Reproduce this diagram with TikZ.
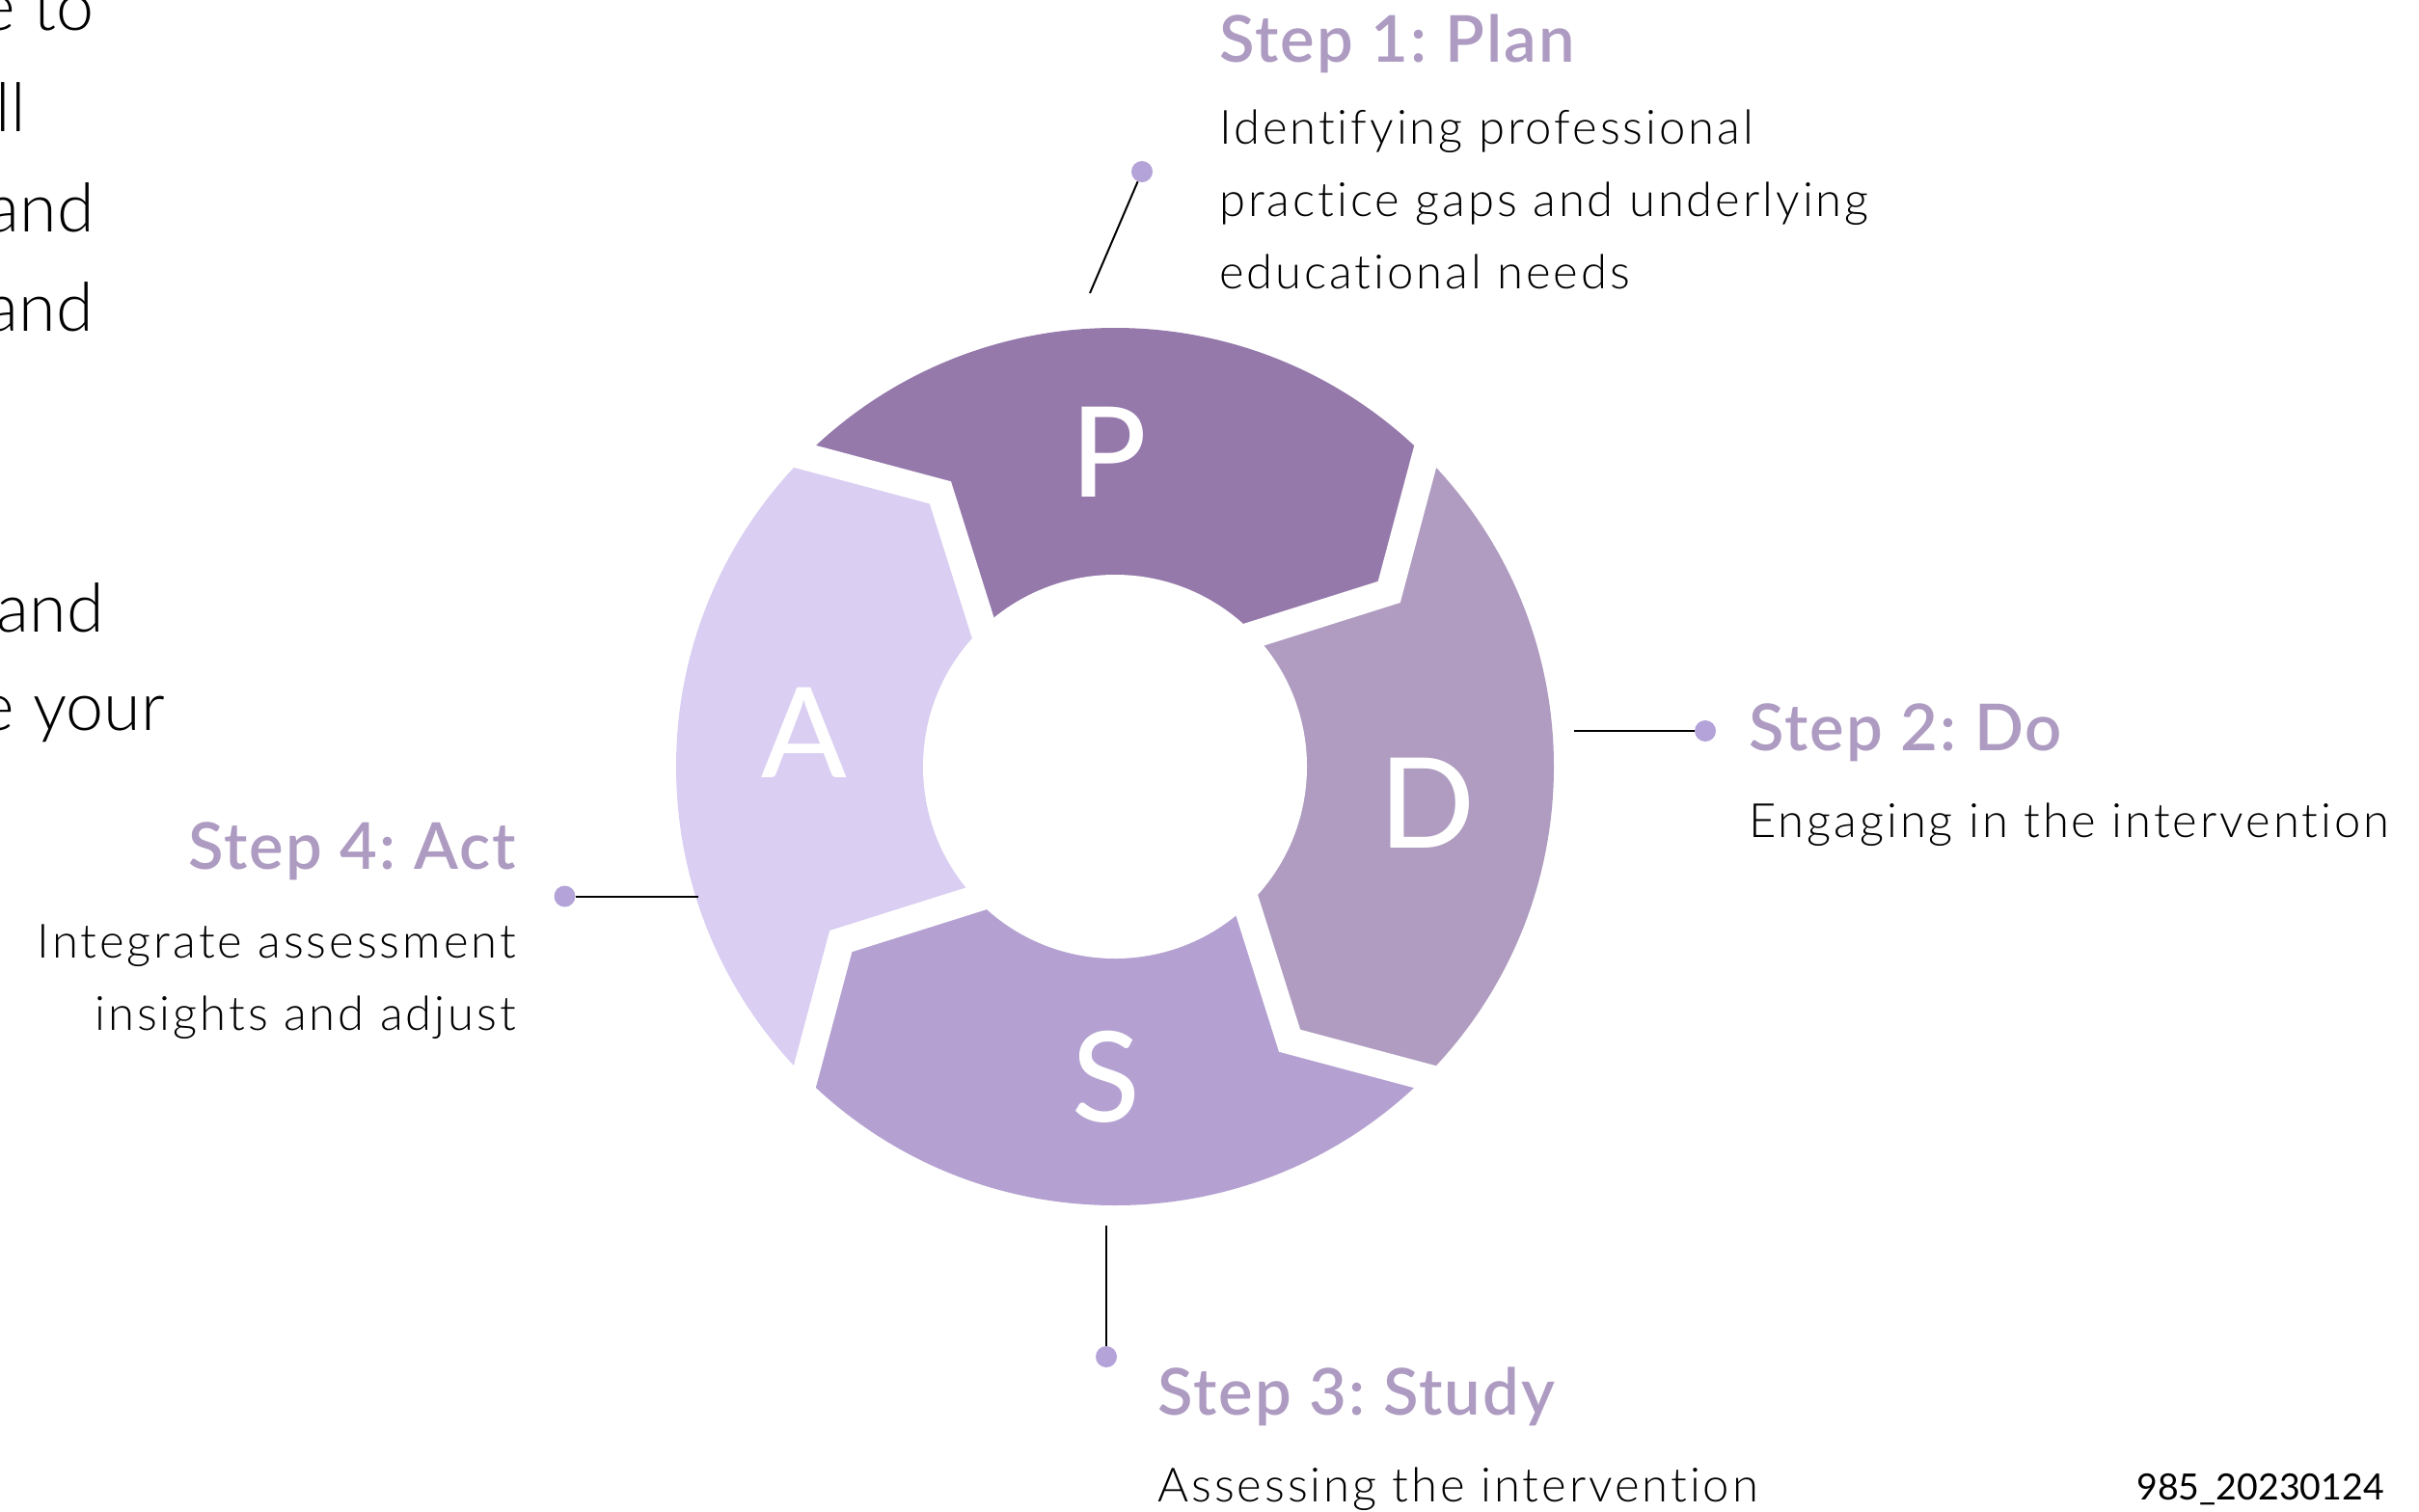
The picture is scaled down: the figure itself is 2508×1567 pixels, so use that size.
\documentclass[tikz,border=0pt]{standalone}
\usepackage{fontspec}
\usetikzlibrary{calc}
\IfFontExistsTF{Lato Light}{\newfontfamily\bodyfont{Lato Light}[LetterSpace=6,Ligatures=NoCommon]}{\newfontfamily\bodyfont{Lato}[LetterSpace=6,Ligatures=NoCommon]}
\IfFontExistsTF{Lato Semibold}{\newfontfamily\headfont{Lato Semibold}[LetterSpace=3]}{\newfontfamily\headfontbase{Lato}[LetterSpace=3]\newcommand\headfont{\headfontbase\bfseries}}
\IfFontExistsTF{Lato Medium}{\newfontfamily\letterfont{Lato Medium}}{\newfontfamily\letterfont{Lato}}
\IfFontExistsTF{Lato Light}{\newfontfamily\fragfont{Lato Light}}{\newfontfamily\fragfont{Lato}}
\newfontfamily\codefont{Lato}
\definecolor{colP}{HTML}{9579AB}
\definecolor{colD}{HTML}{AF9CC0}
\definecolor{colS}{HTML}{B4A1D1}
\definecolor{colA}{HTML}{DACEF2}
\definecolor{headcol}{HTML}{AE9BC2}
\definecolor{dotcol}{HTML}{B4A3D8}
\begin{document}
\frenchspacing
\begin{tikzpicture}[x=1pt,y=-1pt,
  head/.style={font=\headfont\fontsize{67}{80}\selectfont, text=headcol, inner sep=0pt},
  body/.style={font=\bodyfont\fontsize{49}{60}\selectfont, text=black, inner sep=0pt},
  letter/.style={font=\letterfont\fontsize{130}{140}\selectfont, text=white, inner sep=0pt},
  frag/.style={font=\fragfont\fontsize{70}{80}\selectfont, text=black, inner sep=0pt, anchor=base east},
  dot/.style={circle, fill=dotcol, minimum size=22pt, inner sep=0pt},
  conn/.style={draw=black, line width=2pt},
  gap/.style={draw=white, line width=28pt, line join=miter}
]
\fill[white] (0,0) rectangle (2508,1567);
\useasboundingbox (0,0) rectangle (2508,1567);

% cut-off paragraph on the left
\node[frag] (f1) at (98,31.6) {e to};
\node[frag] (f2) at (27,136.7) {ll};
\node[frag] (f3) at (98,240) {and};
\node[frag] (f4) at (97,343) {and};
\node[frag] (f5) at (108,655.6) {and};
\node[frag] (f6) at (171,757.7) {e your};

% ring
\coordinate (C) at (1156,795);
\begin{scope}
\clip (C) circle (455);
\foreach \s/\col in {-135/colP,-45/colD,45/colS,135/colA}{
  \fill[\col] (C) -- ($(C)+({\s+1.5}:199)$) -- ($(C)+({\s+12.5}:337)$) -- ($(C)+(\s:455)$) -- ($(C)+(\s:700)$) -- ($(C)+({\s+45}:700)$) -- ($(C)+({\s+90}:700)$) -- ($(C)+({\s+90}:455)$) -- ($(C)+({\s+102.5}:337)$) -- ($(C)+({\s+91.5}:199)$) -- cycle;
}
\end{scope}
\fill[white] (C) circle (199);
\foreach \s in {-135,-45,45,135}{
  \coordinate (V) at ($(C)+({\s+12.5}:337)$);
  \coordinate (Go) at ($(C)+(\s:455)$);
  \coordinate (Gi) at ($(C)+({\s+1.5}:199)$);
  \draw[gap] ($(V)!1.4!(Go)$) -- (V) -- ($(V)!1.4!(Gi)$);
}

\node[letter] (P) at (1150,468.5) {P};
\node[letter] (D) at (1479.5,832.5) {D};
\node[letter] (S) at (1147,1117) {S};
\node[letter] (A) at (833.5,760) {A};

% connectors
\node[dot] (dP) at (1184,178) {};
\coordinate (lP) at (1130,304);
\draw[conn] (dP) -- (lP);
\node[dot] (dD) at (1768,758) {};
\coordinate (lD) at (1632,758);
\draw[conn] (lD) -- (dD);
\node[dot] (dS) at (1147,1407) {};
\coordinate (lS) at (1147,1271);
\draw[conn] (lS) -- (dS);
\node[dot] (dA) at (585.5,929.5) {};
\coordinate (lA) at (724,929.5);
\draw[conn] (lA) -- (dA);

% labels
\node[head, anchor=base west] (h1) at (1264,64) {Step 1: Plan};
\node[body, anchor=base west] (b1a) at (1264,149) {Identifying professional};
\node[body, anchor=base west] (b1b) at (1264,224) {practice gaps and underlying};
\node[body, anchor=base west] (b1c) at (1264,299) {educational needs};

\node[head, anchor=base west] (h2) at (1813,778) {Step 2: Do};
\node[body, anchor=base west] (b2) at (1813,868) {Engaging in the intervention};

\node[head, anchor=base west] (h3) at (1200,1467) {Step 3: Study};
\node[body, anchor=base west] (b3) at (1200,1557) {Assessing the intervention};

\node[head, anchor=base east] (h4) at (535,901) {Step 4: Act};
\node[body, anchor=base east] (b4a) at (535,993) {Integrate assessment};
\node[body, anchor=base east] (b4b) at (535,1068) {insights and adjust};

\node[font=\codefont\fontsize{37.5}{44}\selectfont, inner sep=0pt, anchor=base east] (code) at (2472,1555) {985\_20230124};
\end{tikzpicture}
\end{document}
